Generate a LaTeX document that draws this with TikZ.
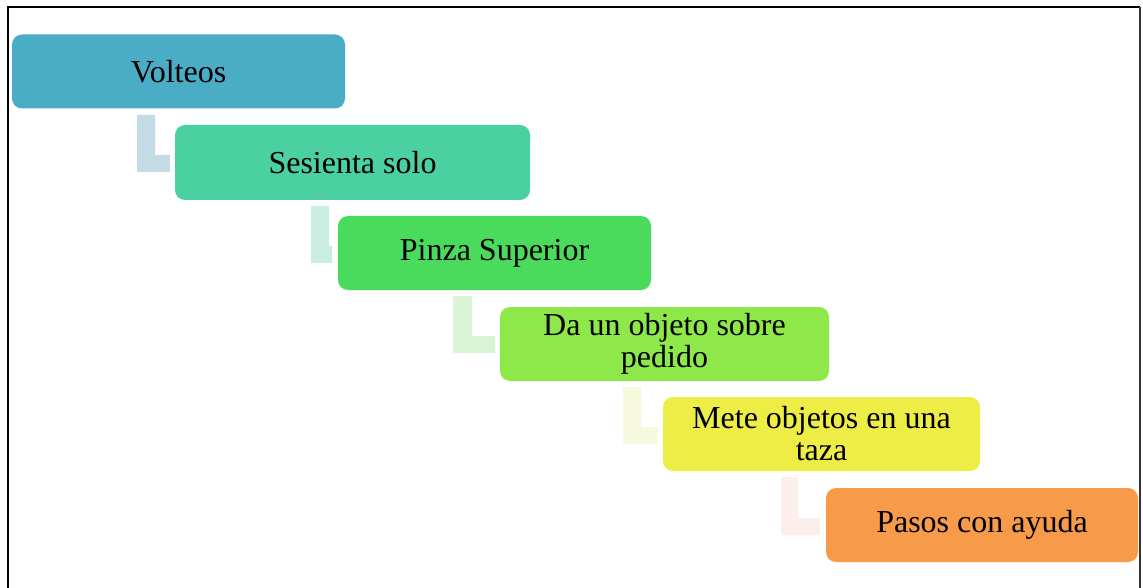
\documentclass[tikz,border=0pt]{standalone}
\usepackage{fontspec}
\setmainfont{Liberation Serif}

\begin{document}
\begin{tikzpicture}[x=0.75pt,y=-0.75pt]
% Define colors
\definecolor{volteos}{RGB}{75,172,198}
\definecolor{sienta}{RGB}{75,208,162}
\definecolor{pinza}{RGB}{74,219,92}
\definecolor{objeto}{RGB}{142,232,74}
\definecolor{taza}{RGB}{237,237,69}
\definecolor{pasos}{RGB}{247,154,74}
\definecolor{linkA}{RGB}{195,219,229}
\definecolor{linkB}{RGB}{201,238,223}
\definecolor{linkC}{RGB}{218,245,214}
\definecolor{linkD}{RGB}{247,249,223}
\definecolor{linkE}{RGB}{252,238,234}
\tikzset{stepbox/.style={rectangle,rounded corners=7.5pt,inner sep=0pt,minimum height=55.5pt,align=center,font=\fontsize{24}{24}\selectfont}}

\useasboundingbox (0,0) rectangle (1143,588);

% Frame
\draw[line width=1.6pt] (8,588) -- (8,7) -- (1140,7);
\draw[line width=0.9pt,black!80] (1140,7) -- (1140,588);

% L links
\fill[linkA] (137,115) -- (155,115) -- (155,155) -- (170,155) -- (170,172) -- (137,172) -- cycle;
\fill[linkB] (311,206) -- (329,206) -- (329,246) -- (332,246) -- (332,263) -- (311,263) -- cycle;
\fill[linkC] (453,296) -- (472,296) -- (472,336) -- (495,336) -- (495,353) -- (453,353) -- cycle;
\fill[linkD] (623,387) -- (641,387) -- (641,427) -- (658,427) -- (658,444) -- (623,444) -- cycle;
\fill[linkE] (781,477) -- (798,477) -- (798,518) -- (820,518) -- (820,535) -- (781,535) -- cycle;

% Steps
\node[stepbox,fill=volteos,minimum width=249.75pt] (volteos) at (178.5,71.5) {Volteos};
\node[stepbox,fill=sienta,minimum width=266.25pt,minimum height=56.25pt] (sienta) at (352.5,162.5) {Sesienta solo};
\node[stepbox,fill=pinza,minimum width=234.75pt] (pinza) at (494.5,253) {Pinza Superior};
\node[stepbox,fill=objeto,minimum width=246.75pt] (objeto) at (664.5,344) {Da un objeto sobre\\pedido};
\node[stepbox,fill=taza,minimum width=237.75pt] (taza) at (821.5,434) {Mete objetos en una\\taza};
\node[stepbox,fill=pasos,minimum width=234pt] (pasos) at (982,525) {Pasos con ayuda};
\end{tikzpicture}
\end{document}
